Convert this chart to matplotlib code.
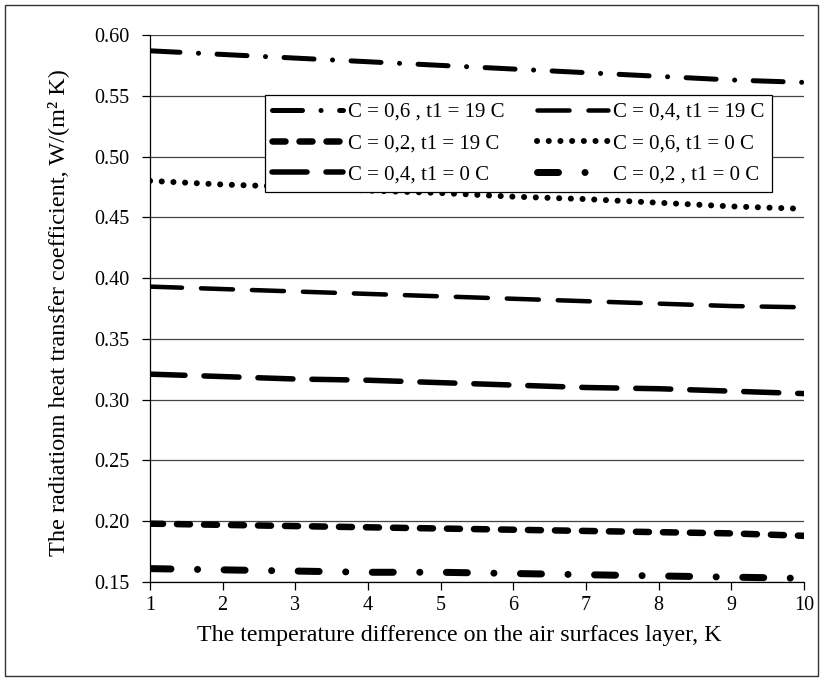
import matplotlib
matplotlib.use("Agg")
import matplotlib.pyplot as plt
from matplotlib.patches import Rectangle

plt.rcParams['font.family'] = ['Liberation Serif', 'DejaVu Serif']
plt.rcParams['lines.scale_dashes'] = False

dpi = 100
fig_w, fig_h = 822, 679

# temperature difference, K
dt = [1, 2, 3, 4, 5, 6, 7, 8, 9, 10]

# radiation heat transfer coefficient, W/(m2 K)
c06_t19 = [0.587, 0.584, 0.581, 0.578, 0.575, 0.572, 0.569, 0.566, 0.563, 0.561]
c04_t19 = [0.393, 0.391, 0.389, 0.387, 0.385, 0.383, 0.381, 0.379, 0.377, 0.376]
c02_t19 = [0.198, 0.197, 0.196, 0.195, 0.194, 0.193, 0.192, 0.191, 0.190, 0.188]
c06_t0 = [0.480, 0.477, 0.475, 0.472, 0.470, 0.467, 0.465, 0.462, 0.459, 0.457]
c04_t0 = [0.321, 0.319, 0.317, 0.316, 0.314, 0.312, 0.310, 0.309, 0.307, 0.305]
c02_t0 = [0.161, 0.160, 0.159, 0.158, 0.158, 0.157, 0.156, 0.155, 0.154, 0.153]

yticks = [0.15, 0.20, 0.25, 0.30, 0.35, 0.40, 0.45, 0.50, 0.55, 0.60]
ytick_labels = ['0.15', '0.20', '0.25', '0.30', '0.35', '0.40', '0.45', '0.50', '0.55', '0.60']


def px(v):
    # pixels -> points
    return v * 72.0 / dpi


fig = plt.figure(figsize=(fig_w / dpi, fig_h / dpi), dpi=dpi)
ax = fig.add_axes([150 / fig_w, 1 - 582 / fig_h, 654 / fig_w, 547 / fig_h])

# outer chart border
fig.patches.append(Rectangle((5 / fig_w, 3 / fig_h), 813 / fig_w, 671 / fig_h,
                             transform=fig.transFigure, fill=False,
                             edgecolor='#333333', linewidth=1.0))

# series in legend order: (data, label, linewidth px, dash pattern px)
series = [
    (c06_t19, 'C = 0,6 , t1 = 19 C', 5.0, (30.0, 18.5, 0.1, 18.5)),
    (c02_t19, 'C = 0,2, t1 = 19 C', 6.5, (13, 14)),
    (c04_t0, 'C = 0,4, t1 = 0 C', 5.5, (35, 19)),
    (c04_t19, 'C = 0,4, t1 = 19 C', 4.5, (32, 19)),
    (c06_t0, 'C = 0,6, t1 = 0 C', 6.0, (0.1, 11.6)),
    (c02_t0, 'C = 0,2 , t1 = 0 C', 7.0, (21.0, 26.5, 0.1, 26.5)),
]

for vals, label, lw, dash in series:
    ax.plot(dt, vals, color='black', linewidth=px(lw),
            dashes=[px(d) for d in dash], dash_capstyle='round',
            solid_capstyle='round', label=label, zorder=3)

ax.set_xlim(1, 10)
ax.set_ylim(0.15, 0.60)
ax.set_xticks(dt)
ax.set_yticks(yticks)
ax.set_yticklabels(ytick_labels)
ax.tick_params(axis='both', labelsize=14.5, direction='out', length=6,
               width=0.9, color='black')
ax.tick_params(axis='y', pad=9)
ax.tick_params(axis='x', pad=4)

ax.grid(axis='y', color='#444444', linewidth=0.9)
ax.set_axisbelow(True)
for side in ['top', 'right']:
    ax.spines[side].set_visible(False)
for side in ['left', 'bottom']:
    ax.spines[side].set_color('black')
    ax.spines[side].set_linewidth(0.9)

leg = ax.legend(loc='upper left', bbox_to_anchor=(0.176, 0.890), ncol=2,
                fontsize=15, frameon=True, fancybox=False, framealpha=1,
                edgecolor='black', borderpad=0.35, handlelength=3.4,
                handletextpad=0.25, columnspacing=1.55, labelspacing=0.56,
                borderaxespad=0)
leg.get_frame().set_linewidth(0.9)
leg.set_zorder(5)

fig.text(58 / fig_w, 1 - 313 / fig_h,
         'The radiationn heat transfer coefficient, W/(m\u00b2 K)',
         rotation=90, ha='center', va='center', fontsize=17.5)
fig.text(459 / fig_w, 1 - 641 / fig_h,
         'The temperature difference on the air surfaces layer, K',
         ha='center', va='baseline', fontsize=17.25)

plt.savefig('out.png', dpi=dpi)
plt.close()
